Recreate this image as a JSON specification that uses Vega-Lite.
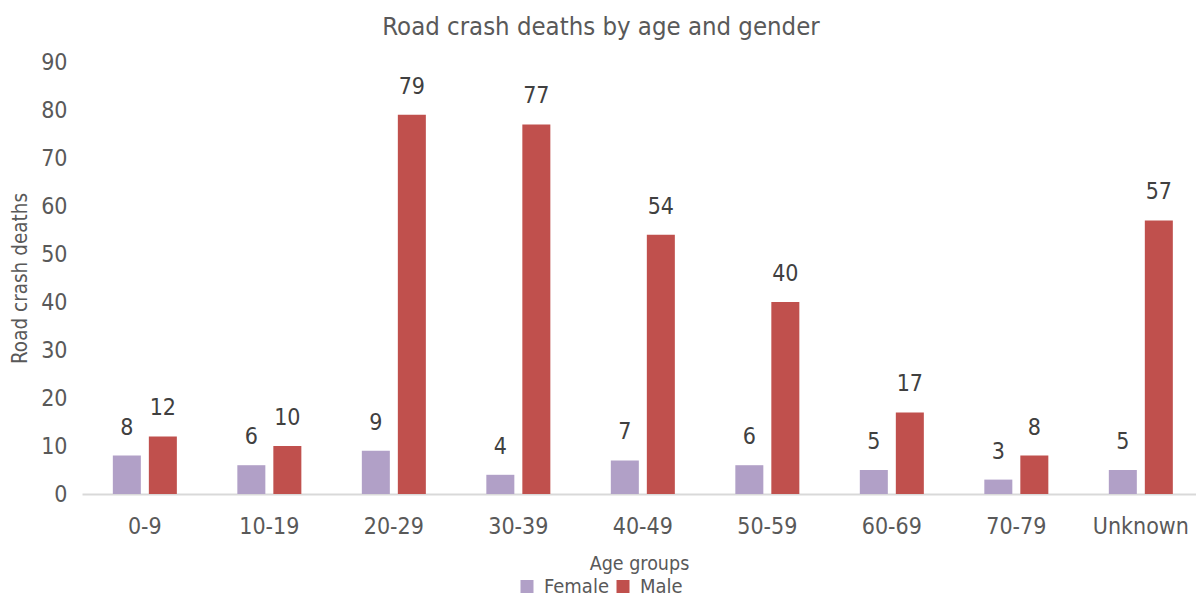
{
  "$schema": "https://vega.github.io/schema/vega-lite/v6.json",
  "width": 1114,
  "height": 432,
  "autosize": {"type": "none"},
  "padding": {"left": 82, "top": 62, "right": 0, "bottom": 103},
  "background": "white",
  "config": {"font": "DejaVu Sans Condensed", "view": {"stroke": null}},
  "title": {
    "text": "Road crash deaths by age and gender",
    "fontSize": 25.5,
    "fontWeight": "normal",
    "color": "#595959",
    "anchor": "middle",
    "dx": -38,
    "offset": 11
  },
  "data": {
    "values": [
      {"age": "0-9", "gender": "Female", "deaths": 8},
      {"age": "0-9", "gender": "Male", "deaths": 12},
      {"age": "10-19", "gender": "Female", "deaths": 6},
      {"age": "10-19", "gender": "Male", "deaths": 10},
      {"age": "20-29", "gender": "Female", "deaths": 9},
      {"age": "20-29", "gender": "Male", "deaths": 79},
      {"age": "30-39", "gender": "Female", "deaths": 4},
      {"age": "30-39", "gender": "Male", "deaths": 77},
      {"age": "40-49", "gender": "Female", "deaths": 7},
      {"age": "40-49", "gender": "Male", "deaths": 54},
      {"age": "50-59", "gender": "Female", "deaths": 6},
      {"age": "50-59", "gender": "Male", "deaths": 40},
      {"age": "60-69", "gender": "Female", "deaths": 5},
      {"age": "60-69", "gender": "Male", "deaths": 17},
      {"age": "70-79", "gender": "Female", "deaths": 3},
      {"age": "70-79", "gender": "Male", "deaths": 8},
      {"age": "Unknown", "gender": "Female", "deaths": 5},
      {"age": "Unknown", "gender": "Male", "deaths": 57}
    ]
  },
  "encoding": {
    "x": {
      "field": "age",
      "type": "nominal",
      "sort": ["0-9", "10-19", "20-29", "30-39", "40-49", "50-59", "60-69", "70-79", "Unknown"],
      "scale": {"paddingInner": 0.48, "paddingOuter": 0.214, "align": 0.572},
      "axis": {
        "title": "Age groups",
        "titleFontSize": 19.5,
        "titleFontWeight": "normal",
        "titleColor": "#595959",
        "titlePadding": 16,
        "labelFontSize": 23,
        "labelColor": "#595959",
        "labelAngle": 0,
        "labelPadding": 21,
        "ticks": false,
        "grid": false,
        "domainColor": "#d9d9d9",
        "domainWidth": 2
      }
    },
    "xOffset": {
      "field": "gender",
      "type": "nominal",
      "sort": ["Female", "Male"],
      "scale": {"paddingInner": 0.222, "paddingOuter": 0.01}
    },
    "y": {
      "field": "deaths",
      "type": "quantitative",
      "scale": {"domain": [0, 90]},
      "axis": {
        "title": "Road crash deaths",
        "titleFontSize": 20.5,
        "titleFontWeight": "normal",
        "titleColor": "#595959",
        "titlePadding": 10,
        "labelFontSize": 23,
        "labelColor": "#595959",
        "labelPadding": 15,
        "ticks": false,
        "domain": false,
        "grid": false,
        "values": [0, 10, 20, 30, 40, 50, 60, 70, 80, 90]
      }
    }
  },
  "layer": [
    {
      "mark": {"type": "bar"},
      "encoding": {
        "color": {
          "field": "gender",
          "type": "nominal",
          "scale": {"domain": ["Female", "Male"], "range": ["#B1A0C7", "#C0504D"]},
          "legend": {
            "orient": "none",
            "legendX": 435,
            "legendY": 514.5,
            "direction": "horizontal",
            "title": null,
            "labelFontSize": 20,
            "labelColor": "#595959",
            "symbolType": "square",
            "symbolSize": 169,
            "symbolStrokeWidth": 0,
            "labelOffset": 7,
            "columnPadding": 4,
            "padding": 0
          }
        }
      }
    },
    {
      "mark": {"type": "text", "baseline": "alphabetic", "dy": -21, "fontSize": 23, "color": "#404040"},
      "encoding": {"text": {"field": "deaths", "type": "quantitative"}}
    }
  ]
}
